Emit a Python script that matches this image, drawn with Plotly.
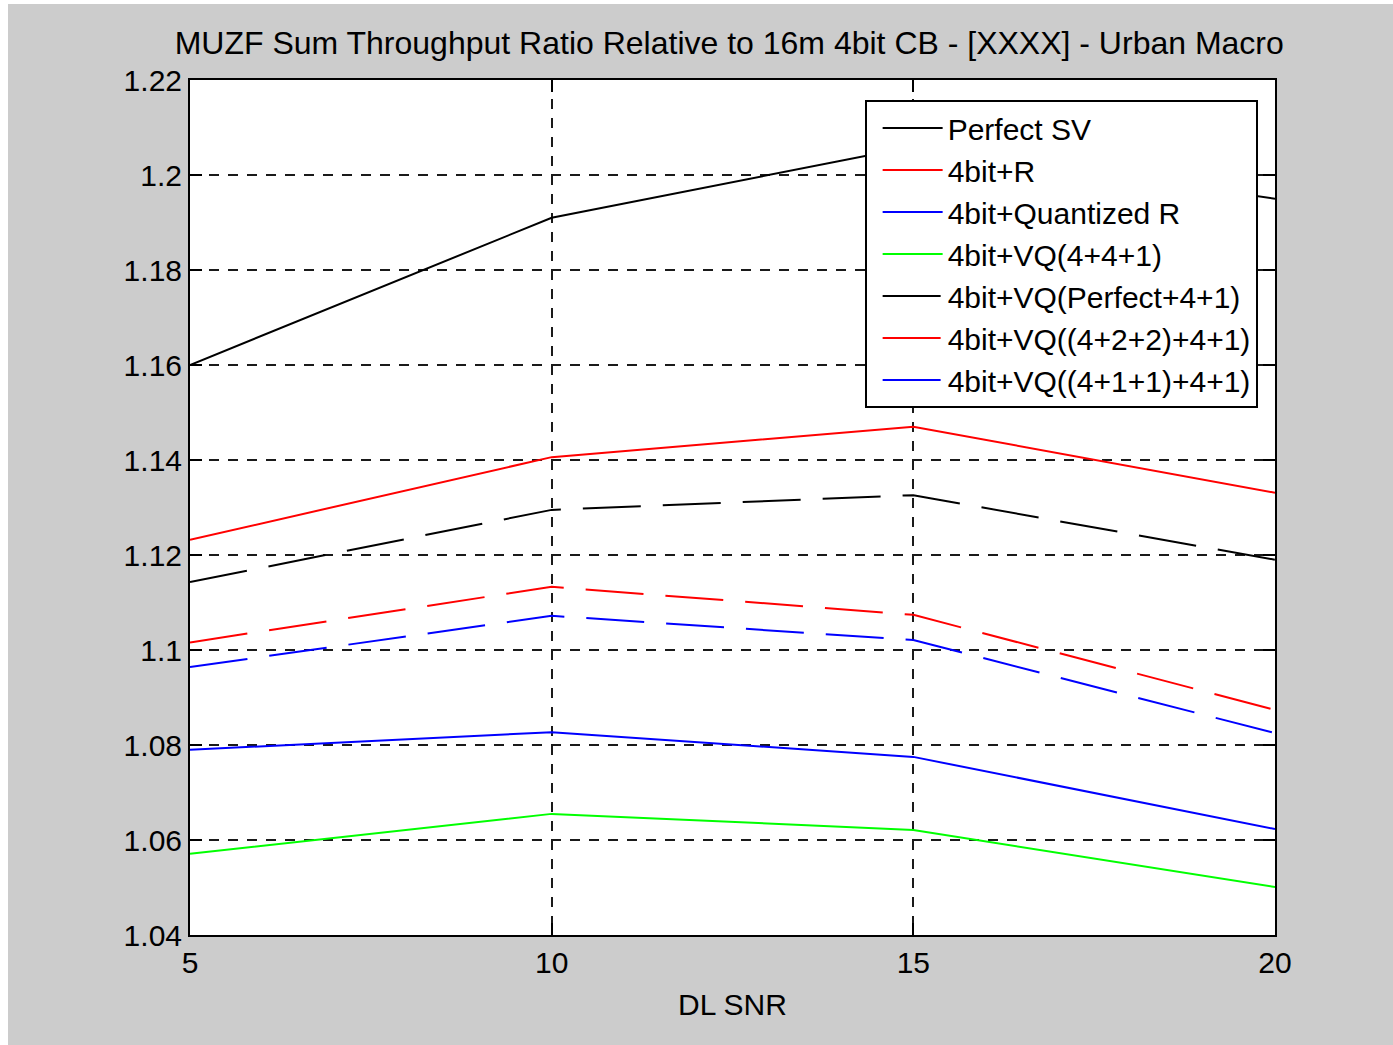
import plotly.graph_objects as go

# ---- data ----
snr = [5, 10, 15, 20]
perfect_sv = [1.160, 1.191, 1.206, 1.195]
bit4_r = [1.1232, 1.1406, 1.147, 1.1331]
bit4_quant_r = [1.079, 1.0827, 1.0775, 1.0623]
vq_441 = [1.0571, 1.0655, 1.0621, 1.0501]
vq_perfect_41 = [1.1143, 1.1295, 1.1326, 1.1190]
vq_422_41 = [1.1016, 1.1133, 1.1074, 1.0874]
vq_411_41 = [1.0964, 1.1072, 1.1021, 1.0825]

series_names = ["Perfect SV", "4bit+R", "4bit+Quantized R", "4bit+VQ(4+4+1)",
                "4bit+VQ(Perfect+4+1)", "4bit+VQ((4+2+2)+4+1)", "4bit+VQ((4+1+1)+4+1)"]
series_values = [perfect_sv, bit4_r, bit4_quant_r, vq_441, vq_perfect_41, vq_422_41, vq_411_41]
series_colors = ["#000000", "#ff0000", "#0000ff", "#00ff00", "#000000", "#ff0000", "#0000ff"]
series_dash = ["solid", "solid", "solid", "solid", "58px,22px", "58px,22px", "58px,22px"]

x_tick_vals = [5, 10, 15, 20]
x_tick_labels = ["5", "10", "15", "20"]
y_tick_vals = [1.04, 1.06, 1.08, 1.10, 1.12, 1.14, 1.16, 1.18, 1.20, 1.22]
y_tick_labels = ["1.04", "1.06", "1.08", "1.1", "1.12", "1.14", "1.16", "1.18", "1.2", "1.22"]

title_text = "MUZF Sum Throughput Ratio Relative to 16m 4bit CB - [XXXX] - Urban Macro"
x_title = "DL SNR"

FONT = "Liberation Sans, Arial, sans-serif"

fig = go.Figure()
for name, vals, col, dash in zip(series_names, series_values, series_colors, series_dash):
    fig.add_trace(go.Scatter(x=snr, y=vals, mode="lines", name=name,
                             line=dict(color=col, width=2, dash=dash)))

axis_common = dict(
    showline=True, linecolor="black", linewidth=2, mirror="ticks",
    ticks="inside", ticklen=12, tickwidth=1.5, tickcolor="black",
    showgrid=True, gridcolor="#1a1a1a", gridwidth=1.5, griddash="10px,9px",
    zeroline=False,
    tickfont=dict(family=FONT, size=30, color="black"),
)

fig.update_layout(
    width=1393, height=1045,
    paper_bgcolor="#cccccc", plot_bgcolor="white",
    margin=dict(l=190, r=118, t=80, b=110),
    font=dict(family=FONT, color="black"),
    title=dict(text=title_text, x=0.5235, xanchor="center", y=1 - 43 / 1045,
               yanchor="middle", font=dict(family=FONT, size=32, color="black")),
    xaxis=dict(range=[5, 20], tickvals=x_tick_vals, ticktext=x_tick_labels,
               title=dict(text=x_title, font=dict(family=FONT, size=30, color="black"), standoff=16),
               **axis_common),
    yaxis=dict(range=[1.04, 1.22], tickvals=y_tick_vals, ticktext=y_tick_labels,
               **axis_common),
    legend=dict(x=0.984, y=0.9766, xanchor="right", yanchor="top",
                bgcolor="white", bordercolor="black", borderwidth=2,
                font=dict(family=FONT, size=30, color="black"),
                tracegroupgap=0, itemwidth=60, indentation=11),
    showlegend=True,
)

# white strips at top and left edges of the figure (outside the grey panel)
fig.add_shape(type="rect", xref="paper", yref="paper",
              x0=-190 / 1085, x1=-182 / 1085, y0=-110 / 855, y1=(935) / 855 + 0.2,
              fillcolor="white", line_width=0, layer="below")
fig.add_shape(type="rect", xref="paper", yref="paper",
              x0=-190 / 1085, x1=1.2, y0=(935 - 4) / 855, y1=935 / 855 + 0.01,
              fillcolor="white", line_width=0, layer="below")

fig.write_html("out.html")
